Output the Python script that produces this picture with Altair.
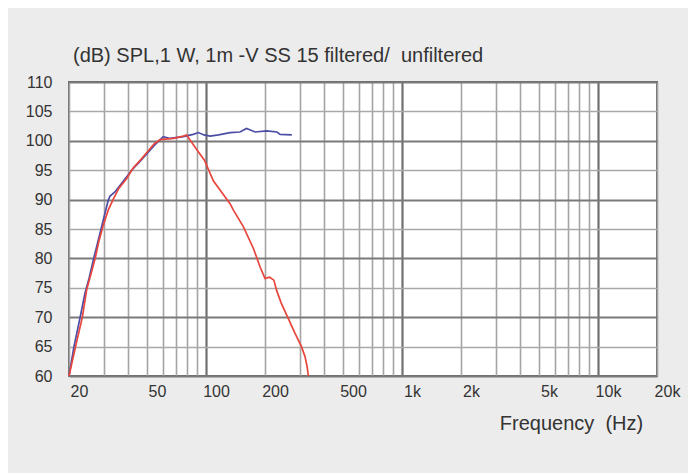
import altair as alt
import pandas as pd

# Unfiltered response (blue)
unf_freq = [20, 21.2, 22.8, 24.1, 25.4, 26.6, 28.2, 29.9, 31.7, 32.4, 34.3, 38.6, 42.3, 45.2, 49.3,
            54.5, 60.5, 65.5, 76.6, 86, 91.5, 97.6, 105, 116, 132.6, 149, 161, 178, 204, 230, 239, 274]
unf_db = [60, 65, 70, 74, 76.8, 79.7, 83.1, 86.5, 89.9, 90.6, 91.3, 93.5, 95.2, 96.2, 97.6,
          99.2, 100.7, 100.4, 100.7, 101.1, 101.4, 101.0, 100.8, 101.0, 101.4, 101.5, 102.1, 101.5,
          101.7, 101.5, 101.1, 101.0]

# Filtered response (red)
fil_freq = [20, 21.6, 23.4, 24.6, 27.2, 28.5, 29.9, 31.7, 33.8, 35.9, 39.4, 42.3, 46.5, 49.3, 54.5,
            58.3, 68.2, 76.6, 79.5, 84.3, 91.5, 98.2, 109, 132.6, 138, 155, 175, 189, 200, 211, 222,
            229, 242, 261, 285, 307, 320, 328, 333]
fil_db = [60, 65, 70, 74.6, 80, 83.1, 85.6, 88.2, 90.2, 91.9, 93.6, 95.3, 96.8, 97.8, 99.5,
          100.2, 100.4, 100.8, 101.0, 99.8, 98.1, 96.7, 93.2, 89.3, 88.2, 85.4, 81.6, 78.5, 76.6,
          76.8, 76.3, 74.6, 72.4, 70.0, 67.2, 65.0, 63.3, 61.6, 60]

x_grid = [20, 30, 40, 50, 60, 70, 80, 90, 100, 200, 300, 400, 500, 600, 700, 800, 900,
          1000, 2000, 3000, 4000, 5000, 6000, 7000, 8000, 9000, 10000, 20000]
x_labels = [20, 50, 100, 200, 500, 1000, 2000, 5000, 10000, 20000]
x_major = [100, 1000, 10000]
y_ticks = [60, 65, 70, 75, 80, 85, 90, 95, 100, 105, 110]

title_text = "(dB) SPL,1 W, 1m -V SS 15 filtered/\u00a0 unfiltered"
x_title = "Frequency\u00a0 (Hz)"

df_unf = pd.DataFrame({"freq": unf_freq, "db": unf_db})
df_fil = pd.DataFrame({"freq": fil_freq, "db": fil_db})

label_expr = (
    f"indexof({x_labels}, datum.value) >= 0 ? "
    "(datum.value >= 1000 ? (datum.value/1000) + 'k' : '' + datum.value) : ''"
)

x_enc = alt.X(
    "freq:Q",
    scale=alt.Scale(type="log", domain=[20, 20000], nice=False),
    axis=alt.Axis(
        values=x_grid,
        labelExpr=label_expr,
        title=x_title,
        titleX=502,
        titleY=47,
        titleAlign="center",
        titleBaseline="middle",
        titleFontSize=20,
        titleFontWeight="normal",
        titleColor="#333333",
        labelFontSize=16,
        labelColor="#333333",
        labelPadding=7,
        labelOffset=10,
        labelOverlap=False,
        labelFlush=False,
        labelBound=False,
        ticks=False,
        domain=False,
        grid=True,
        gridColor={"condition": {"test": f"indexof({x_major}, datum.value) >= 0", "value": "#707070"},
                   "value": "#a4a4a4"},
        gridWidth={"condition": {"test": f"indexof({x_major}, datum.value) >= 0", "value": 2.2},
                   "value": 1.6},
    ),
)

y_enc = alt.Y(
    "db:Q",
    scale=alt.Scale(domain=[60, 110], nice=False, zero=False),
    axis=alt.Axis(
        values=y_ticks,
        title=None,
        labelFontSize=16,
        labelColor="#333333",
        labelPadding=17,
        ticks=False,
        domain=False,
        grid=True,
        gridColor={"condition": {"test": "datum.value % 10 == 0", "value": "#7a7a7a"},
                   "value": "#a8a8a8"},
        gridWidth={"condition": {"test": "datum.value % 10 == 0", "value": 2.0},
                   "value": 1.6},
    ),
)

blue = alt.Chart(df_unf).mark_line(color="#4d4da6", strokeWidth=1.7).encode(x=x_enc, y=y_enc)
red = alt.Chart(df_fil).mark_line(color="#e8463c", strokeWidth=1.7).encode(x=x_enc, y=y_enc)

chart = (
    alt.layer(blue, red)
    .properties(
        width=588,
        height=294,
        autosize=alt.AutoSizeParams(type="none"),
        padding={"left": 61, "top": 74, "right": 31, "bottom": 97},
        background="#ececec",
        title=alt.TitleParams(
            text=title_text,
            anchor="start",
            frame="group",
            baseline="bottom",
            offset=16,
            dx=4,
            dy=28,
            fontSize=20,
            fontWeight="normal",
            color="#333333",
        ),
    )
    .configure(font="Liberation Sans")
    .configure_view(stroke="#6a6a6a", strokeWidth=2, fill="white")
)

chart.save("out.html", embed_options={"renderer": "svg", "actions": False})
